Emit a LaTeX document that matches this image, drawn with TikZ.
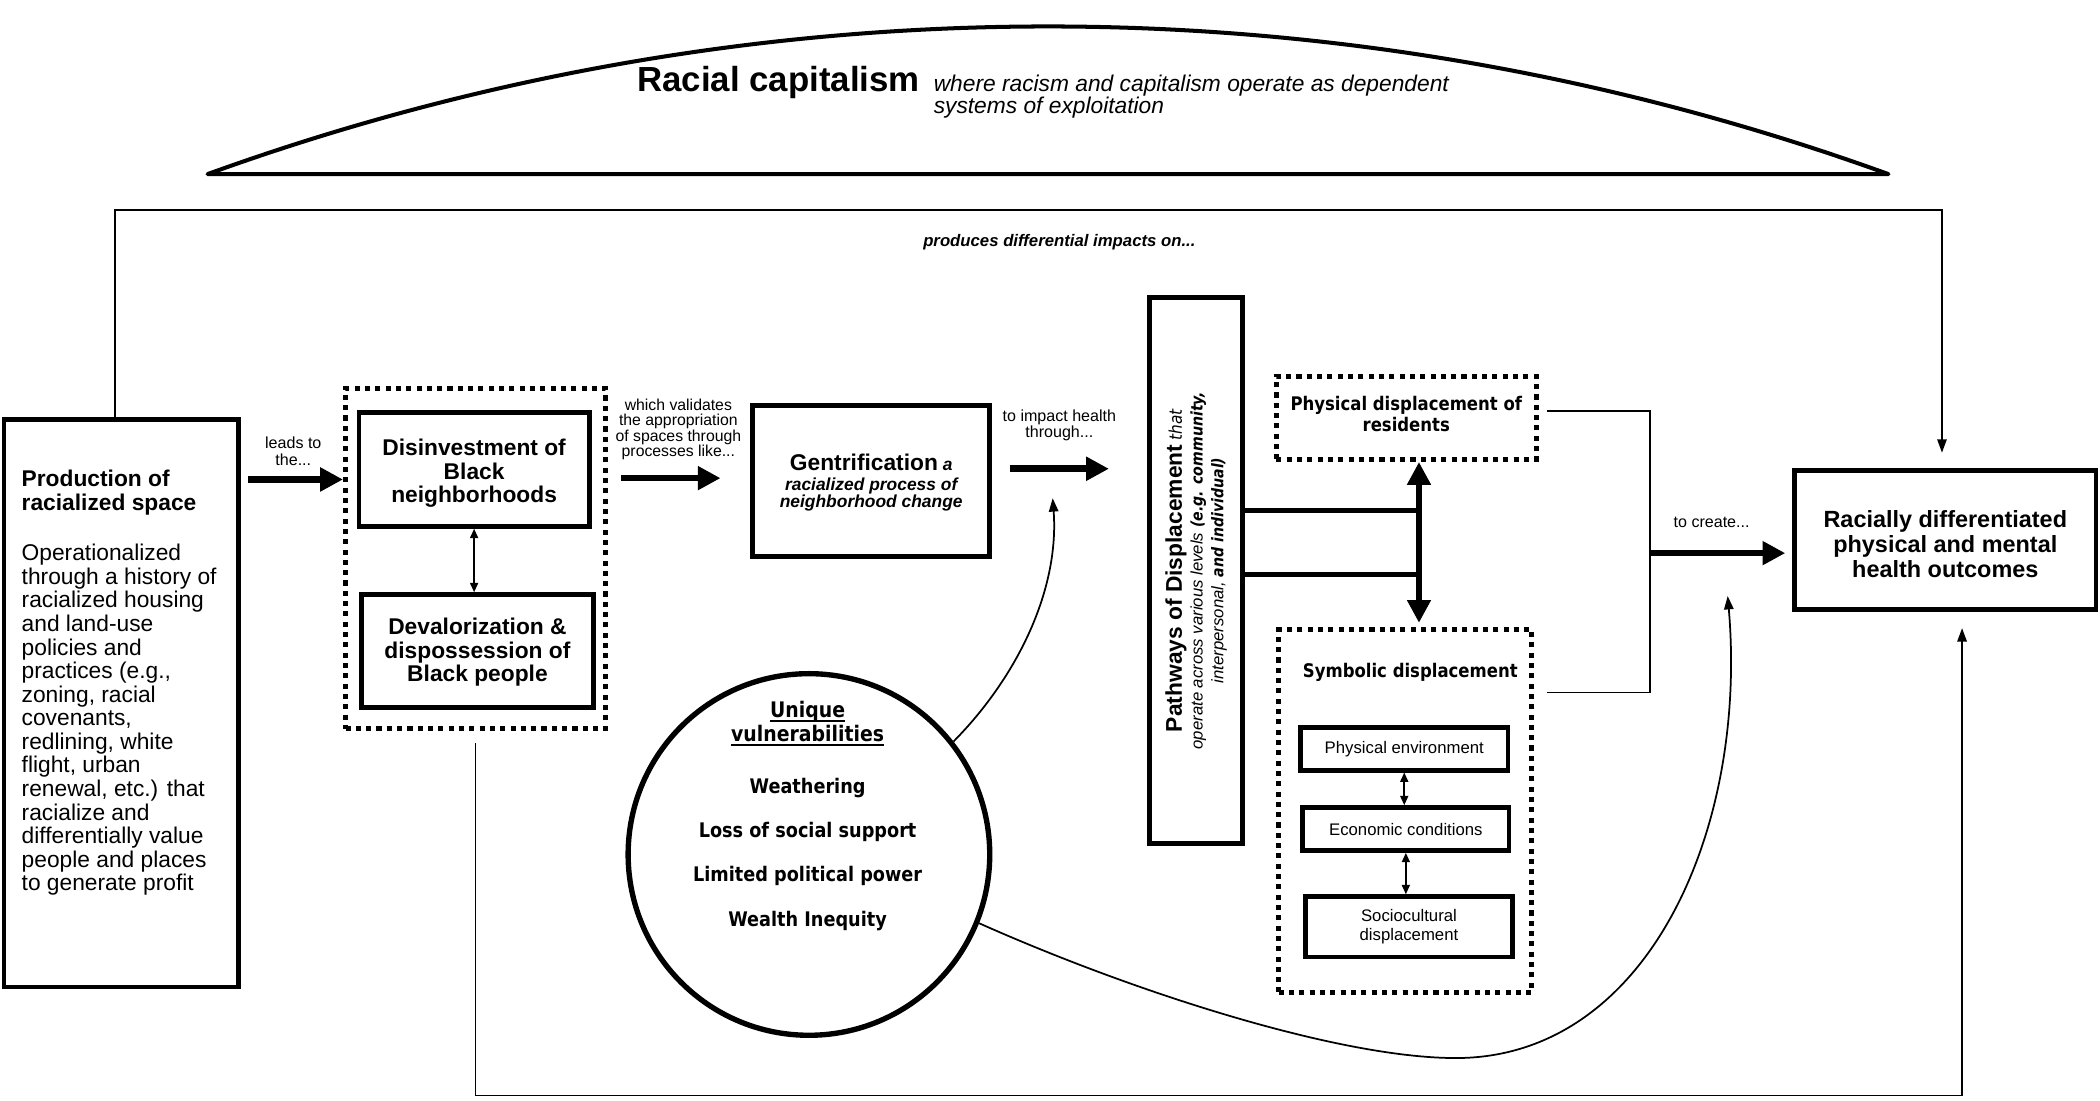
\documentclass[tikz,border=0pt]{standalone}
\usepackage{fontspec}
\setmainfont{Liberation Sans}
\newfontfamily\dvc[FakeStretch=0.88]{DejaVu Sans}
\usetikzlibrary{arrows.meta,calc}
\newcommand\myul[1]{\leavevmode\vtop{\setbox0\hbox{#1}\dp0=0pt\box0\kern2pt\hrule height 1.4pt}}
\begin{document}
\begin{tikzpicture}[x=1pt,y=-1pt,
  thickbox/.style={draw,line width=3.6pt,fill=white,align=center,inner sep=2pt},
  dotbox/.style={draw,line width=3.8pt,dash pattern=on 3.8pt off 3.9pt},
  thinline/.style={line width=1.3pt},
  bigarrow/.style={line width=5pt,-{Triangle[length=17pt,width=17pt]}},
  smallarrow/.style={line width=1.3pt,-{Triangle[length=10pt,width=7pt]}},
  dblsmall/.style={line width=1.2pt,{Triangle[length=7pt,width=6pt]}-{Triangle[length=7pt,width=6pt]}},
  dblbig/.style={line width=4pt,{Triangle[length=17pt,width=17pt]}-{Triangle[length=17pt,width=17pt]}},
  titletext/.style={align=center,inner sep=0,font=\bfseries\fontsize{17}{17.4}\selectfont},
  lbl/.style={font=\fontsize{12}{12.4}\selectfont,align=center,inner sep=0},
]
\useasboundingbox (0,0) rectangle (1568,822);

% ---- racial capitalism dome
\draw[line width=3pt,line join=round] (155,130) .. controls (561,-17) and (1004,-17) .. (1410,130) -- cycle;
\node[anchor=base east,inner sep=0,font=\bfseries\fontsize{26}{28}\selectfont] (rc) at (687,68) {Racial capitalism};
\node[anchor=north west,align=left,inner sep=0,font=\itshape\fontsize{17}{17}\selectfont] (rcdesc) at (697,55.5) {where racism and capitalism operate as dependent\\systems of exploitation};

% ---- production of racialized space
\node[thickbox,minimum width=175pt,minimum height=424pt] (prod) at (90.5,525) {};
\node[anchor=north west,align=left,inner sep=0,font=\fontsize{17}{17.6}\selectfont] (prodtxt) at (16,351)
 {{\bfseries Production of}\\[-0.2pt]{\bfseries racialized space}\\[20.2pt]
  Operationalized\\through a history of\\racialized housing\\and land-use\\policies and\\practices (e.g.,\\zoning, racial\\covenants,\\redlining, white\\flight, urban\\renewal, etc.) that\\racialize and\\differentially value\\people and places\\to generate profit};

% ---- disinvestment / devalorization
\node[dotbox,minimum width=194pt,minimum height=254pt] (dotL) at (355,417) {};
\node[thickbox,minimum width=172pt,minimum height=85pt] (disinv) at (354,350.5) {};
\node[titletext] (disinvT) at (354,353.5) {Disinvestment of\\Black\\neighborhoods};
\node[thickbox,minimum width=173pt,minimum height=84pt] (deval) at (356.5,486) {};
\node[titletext] (devalT) at (356.5,487) {Devalorization \&\\dispossession of\\Black people};
\draw[dblsmall] (disinv.south) -- (disinv.south |- deval.north);

% ---- gentrification
\node[thickbox,minimum width=177pt,minimum height=113pt] (gent) at (650.5,359) {};
\node[align=center,inner sep=0,font=\bfseries\itshape\fontsize{13}{13}\selectfont] (gentT) at (650.5,360.5)
 {{\upshape\fontsize{17}{17}\selectfont Gentrification} a\\[1.5pt]racialized process of\\neighborhood change};

% ---- labels and main arrows
\node[lbl] (leadslbl) at (219,337) {leads to\\the...};
\coordinate (a1s) at (185,358);
\draw[bigarrow] (a1s) -- (a1s -| dotL.west);

\node[lbl,font=\fontsize{11.8}{11.6}\selectfont] (whichlbl) at (506.5,320.5) {which validates\\the appropriation\\of spaces through\\processes like...};
\coordinate (a2s) at (464,357); \coordinate (a2e) at (538,357);
\draw[bigarrow] (a2s) -- (a2e);

\node[lbl] (impactlbl) at (791,317.5) {to impact health\\through...};
\coordinate (a3s) at (754,350); \coordinate (a3e) at (828,350);
\draw[bigarrow] (a3s) -- (a3e);

% ---- pathways of displacement
\node[thickbox,minimum width=70pt,minimum height=408pt] (path) at (893,426) {};
\node[rotate=90,align=center,inner sep=0,font=\fontsize{12.5}{15.5}\selectfont] (pathtxt) at (path.center)
 {{\bfseries\fontsize{17}{19}\selectfont Pathways of Displacement} {\dvc\itshape\fontsize{13}{15}\selectfont that}\\
  {\itshape operate across various levels} {\dvc\bfseries\itshape\fontsize{12}{15}\selectfont (e.g. community,}\\
  {\itshape interpersonal,} {\dvc\bfseries\itshape\fontsize{12}{15}\selectfont and individual)}};

\node[dotbox,minimum width=194pt,minimum height=62pt] (phys) at (1050,312) {};
\node[align=center,inner sep=0,font=\dvc\bfseries\fontsize{14}{15.2}\selectfont] (physT) at (1050,309) {Physical displacement of\\residents};
\node[dotbox,minimum width=189pt,minimum height=271pt] (symb) at (1049.3,605.5) {};
\node[inner sep=0,font=\dvc\bfseries\fontsize{14}{16}\selectfont] (symbt) at (1053,502) {Symbolic displacement};
\node[thickbox,minimum width=155pt,minimum height=32pt,font=\fontsize{12.5}{14}\selectfont] (penv) at (1048.5,559) {Physical environment};
\node[thickbox,minimum width=154pt,minimum height=32pt,font=\fontsize{12.5}{14}\selectfont] (econ) at (1049.7,619) {Economic conditions};
\node[thickbox,minimum width=155pt,minimum height=45pt,font=\fontsize{12.5}{14}\selectfont] (socio) at (1052,692) {Sociocultural\\displacement};
\draw[dblsmall] (penv.south) -- (penv.south |- econ.north);
\draw[dblsmall] (econ.south) -- (econ.south |- socio.north);

\coordinate (j1) at (1061,381); \coordinate (j2) at (1061,429);
\draw[line width=4pt] (path.east |- j1) -- (j1);
\draw[line width=4pt] (path.east |- j2) -- (j2);
\coordinate (vup) at (1059.5,345); \coordinate (vdn) at (1059.5,465);
\draw[dblbig] (vup) -- (vdn);

% ---- bracket to outcomes
\coordinate (br1) at (1155,307); \coordinate (br2) at (1232,307);
\coordinate (br3) at (1232,517); \coordinate (br4) at (1155,517);
\draw[thinline] (br1) -- (br2) -- (br3) -- (br4);
\node[lbl] (createlbl) at (1278,390) {to create...};
\coordinate (a4s) at (1232,413); \coordinate (a4e) at (1333,413);
\draw[line width=5pt,-{Triangle[length=17pt,width=17pt]}] (a4s) -- (a4e);

\node[thickbox,minimum width=225pt,minimum height=104pt] (racial) at (1452.5,403) {};
\node[align=center,inner sep=0,font=\bfseries\fontsize{17.5}{18.7}\selectfont] (racialT) at (1452.5,406) {Racially differentiated\\physical and mental\\health outcomes};

% ---- top feedback
\node[inner sep=0,font=\bfseries\itshape\fontsize{12.5}{13}\selectfont] (prodlbl) at (791,181) {produces differential impacts on...};
\coordinate (tstart) at (86,311); \coordinate (tend) at (1450,338);
\draw[smallarrow] (tstart) -- (86,157) -- (1450,157) -- (tend);

% ---- bottom feedback
\coordinate (bstart) at (355,555); \coordinate (bend) at (1465,469);
\draw[smallarrow] (bstart) -- (355,818) -- (1465,818) -- (bend);

% ---- unique vulnerabilities
\node[draw,circle,line width=4pt,minimum size=270pt,inner sep=0] (vul) at (604,638) {};
\node[align=center,inner sep=0,font=\dvc\bfseries\fontsize{15}{18}\selectfont] (vultxt) at (603,609)
 {{\fontsize{16}{18}\selectfont\myul{Unique}}\\{\fontsize{16}{18}\selectfont\myul{vulnerabilities}}\\[21pt]
  Weathering\\[15pt]Loss of social support\\[15pt]Limited political power\\[15pt]Wealth Inequity};
\coordinate (c1e) at (786,372);
\draw[smallarrow] (vul.38) .. controls (760,505) and (791,440) .. (c1e);
\coordinate (c2m) at (1087,790); \coordinate (c2e) at (1290,445);
\draw[smallarrow] (vul.-22) .. controls (847,741) and (1000,790) .. (c2m) .. controls (1230,790) and (1305,620) .. (c2e);
\end{tikzpicture}
\end{document}
